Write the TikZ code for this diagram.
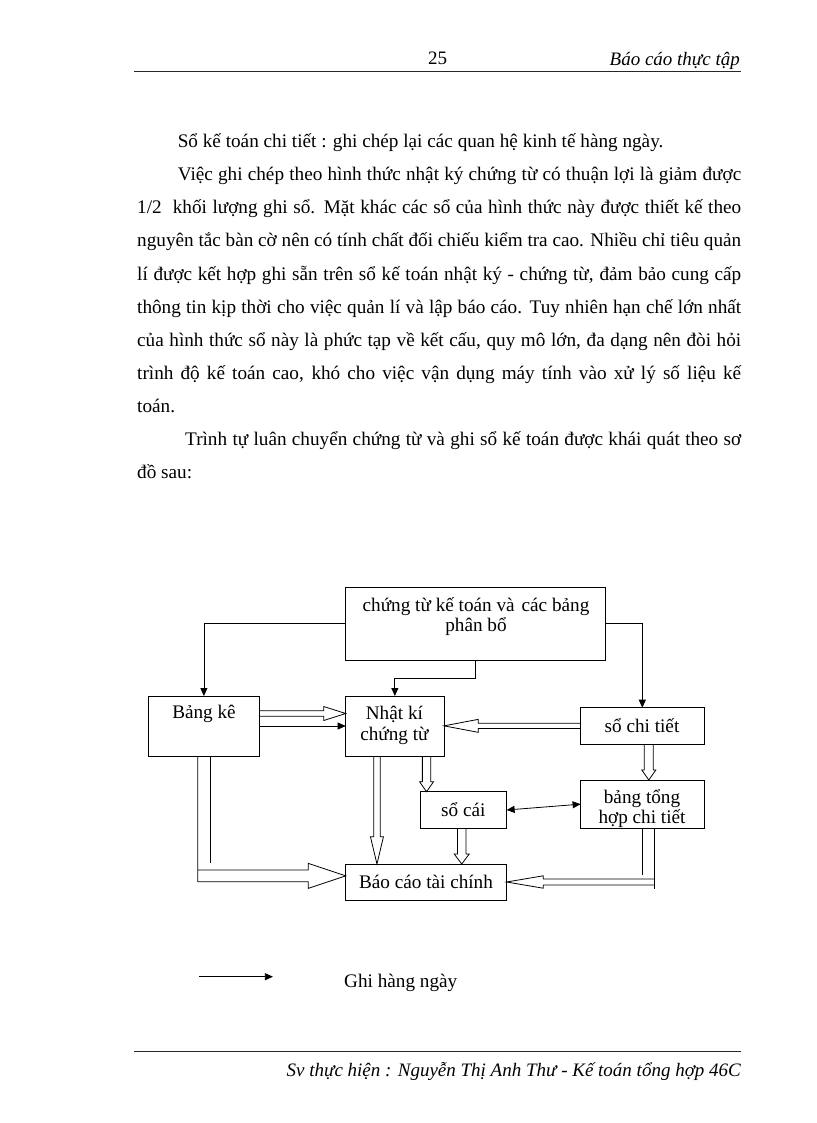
\documentclass[tikz,border=0pt]{standalone}
\usepackage{fontspec}
\setmainfont{Liberation Serif}
\usetikzlibrary{arrows.meta,calc}
\tikzset{
  box/.style={draw, line width=0.9pt, inner sep=0pt, outer sep=0pt},
  lbl/.style={inner sep=0pt, align=center, font=\fontsize{19.2}{20.5}\selectfont},
  arr/.style={line width=0.8pt, -{Triangle[length=8pt,width=7pt]}},
  arrtwo/.style={line width=0.8pt, {Triangle[length=8pt,width=7pt]}-{Triangle[length=8pt,width=7pt]}},
  hol/.style={line width=0.8pt, line join=miter},
  bodytxt/.style={inner sep=0pt, anchor=base west, font=\fontsize{19.2}{24}\selectfont},
  rule/.style={line width=0.9pt, black!85},
  hdr/.style={inner sep=0pt, font=\fontsize{19}{22}\selectfont\itshape},
}
% horizontal hollow double arrow: from #1 (gives y), tip x from #2, half gap #3, signed head length #4, half head #5
\newcommand\hollowH[5]{\draw[hol] let \p1=(#1), \p2=(#2) in
  (\x1,\y1+#3pt) -- ({\x2-(#4pt)},\y1+#3pt) -- ({\x2-(#4pt)},\y1+#5pt) -- (\x2,\y1)
  -- ({\x2-(#4pt)},\y1-#5pt) -- ({\x2-(#4pt)},\y1-#3pt) -- (\x1,\y1-#3pt);}
% vertical (downward) hollow double arrow: from #1 (gives x), tip y from #2
\newcommand\hollowV[5]{\draw[hol] let \p1=(#1), \p2=(#2) in
  (\x1+#3pt,\y1) -- (\x1+#3pt,{\y2+(#4pt)}) -- (\x1+#5pt,{\y2+(#4pt)}) -- (\x1,\y2)
  -- (\x1-#5pt,{\y2+(#4pt)}) -- (\x1-#3pt,{\y2+(#4pt)}) -- (\x1-#3pt,\y1);}
\newcommand\bodyline[4]{\node[bodytxt] (#1) at (#2,#3) {#4};}
\newcommand\justline[4]{\node[bodytxt] (#1) at (#2,#3) {\makebox[\dimexpr741pt-#2pt\relax][s]{#4}};}
\begin{document}
\begin{tikzpicture}[x=1pt,y=-1pt]
\fill[white] (0,0) rectangle (816,1123);
\useasboundingbox (0,0) rectangle (816,1123);

% header
\node[inner sep=0pt, anchor=base, font=\fontsize{19}{22}\selectfont] (pg) at (437.5,65) {25};
\node[hdr, anchor=base east] (htitle) at (740,66) {Báo cáo thực tập};
\coordinate (hr1) at (134,71.7); \coordinate (hr2) at (741,71.7);
\draw[rule] (hr1) -- (hr2);

% body text
\bodyline{t1}{177.6}{148}{Sổ kế toán chi tiết : ghi chép lại các quan hệ kinh tế hàng ngày.}
\justline{t2}{177.6}{181}{Việc ghi chép theo hình thức nhật ký chứng từ có thuận lợi là giảm được}
\justline{t3}{137}{214}{1/2\ \ khối lượng ghi sổ. Mặt khác các sổ của hình thức này được thiết kế theo}
\justline{t4}{137}{247}{nguyên tắc bàn cờ nên có tính chất đối chiếu kiểm tra cao. Nhiều chỉ tiêu quản}
\justline{t5}{137}{280}{lí được kết hợp ghi sẵn trên sổ kế toán nhật ký - chứng từ, đảm bảo cung cấp}
\justline{t6}{137}{313}{thông tin kịp thời cho việc quản lí và lập báo cáo. Tuy nhiên hạn chế lớn nhất}
\justline{t7}{137}{346}{của hình thức sổ này là phức tạp về kết cấu, quy mô lớn, đa dạng nên đòi hỏi}
\justline{t8}{137}{379}{trình độ kế toán cao, khó cho việc vận dụng máy tính vào xử lý số liệu kế}
\bodyline{t9}{137}{412}{toán.}
\justline{t10}{185}{445}{Trình tự luân chuyển chứng từ và ghi sổ kế toán được khái quát theo sơ}
\bodyline{t11}{137}{478}{đồ sau:}

% boxes
\node[box, minimum width=259.3pt, minimum height=72.7pt] (ct) at (475.35,623.65) {};
\node[box, minimum width=111pt, minimum height=60pt] (bk) at (203.9,726) {};
\node[box, minimum width=98.3pt, minimum height=60pt] (nk) at (394.85,726) {};
\node[box, minimum width=123.4pt, minimum height=36.3pt] (sct) at (642.3,725.85) {};
\node[box, minimum width=123.4pt, minimum height=48.3pt] (bth) at (642.3,804.15) {};
\node[box, minimum width=86.6pt, minimum height=36.6pt] (sc) at (463.3,810) {};
\node[box, minimum width=160.9pt, minimum height=36pt] (bc) at (426.15,882) {};

% labels
\node[lbl] (ctl) at (476,616.5) {chứng từ kế toán và\hspace{7pt}các bảng\\phân bổ};
\node[lbl] (bkl) at (204,714) {Bảng kê};
\node[lbl] (nkl) at (394.4,725.5) {Nhật kí\\chứng từ};
\node[lbl] (sctl) at (642,726) {sổ chi tiết};
\node[lbl] (bthl) at (642,808.5) {bảng tổng\\hợp chi tiết};
\node[lbl] (scl) at (463.3,810) {sổ cái};
\node[lbl] (bcl) at (426,882) {Báo cáo tài chính};

% thin arrows
\draw[arr] (ct.west) -| (bk.north);
\draw[arr] (ct.east) -| (sct.north);
\draw[arr] (ct.south) -- ++(0,18.7) -| (nk.north);
\draw[arr] (bk.east) -- (nk.west);
\draw[arrtwo] (sc.east) -- (bth.west);

% hollow double arrows
\hollowH{$(bk.east)+(0,-12.5)$}{nk.west}{2.8}{22}{7}
\hollowH{sct.west}{nk.east}{2.7}{-34.3}{6.5}
\hollowV{$(sct.south)+(6.5,0)$}{bth.north}{4.5}{10}{7}
\hollowV{$(nk.south)+(31.7,0)$}{sc.north}{4.2}{10}{7}
\hollowV{$(nk.south)+(-17.9,0)$}{bc.north}{3.3}{27.3}{6.5}
\hollowV{$(sc.south)+(-1.6,0)$}{bc.north}{4.3}{10}{7.5}

% bent: Bang ke -> Bao cao
\draw[hol] ($(bk.south)+(6.1,0)$) -- ++(0,107.3);
\draw[hol] let \p1=($(bk.south)+(-6.2,0)$), \p2=($(bc.west)+(0,-6.15)$) in
  (\x1,\y1) -- (\x1,\y2-5.85pt) -- (\x2-37.4pt,\y2-5.85pt) -- (\x2-37.4pt,\y2-12.5pt) -- (\x2,\y2)
  -- (\x2-37.4pt,\y2+12.5pt) -- (\x2-37.4pt,\y2+5.85pt) -- (\x1,\y2+5.85pt);

% bent: bang tong hop -> Bao cao
\draw[hol] (bth.south) -- ++(0,46.7);
\draw[hol] let \p1=($(bth.south)+(11.7,0)$), \p2=(bc.east) in
  (\x1,\y1) -- (\x1,\y2-6.6pt);
\draw[hol] let \p1=($(bth.south)+(11.7,0)$), \p2=(bc.east) in
  (\x1,\y2+3pt) -- (\x2+36.6pt,\y2+3pt) -- (\x2+36.6pt,\y2+6.2pt) -- (\x2,\y2)
  -- (\x2+36.6pt,\y2-6.2pt) -- (\x2+36.6pt,\y2-3pt) -- (\x1,\y2-3pt);

% legend
\coordinate (lg1) at (199.4,976.7); \coordinate (lg2) at (272.9,976.7);
\draw[arr] (lg1) -- (lg2);
\node[inner sep=0pt, anchor=base west, font=\fontsize{19.2}{22}\selectfont] (lgt) at (344,987) {Ghi hàng ngày};

% footer
\coordinate (fr1) at (134,1051); \coordinate (fr2) at (741,1051);
\draw[rule] (fr1) -- (fr2);
\node[hdr, anchor=base east] (ftext) at (741,1076) {Sv thực hiện : Nguyễn Thị Anh Thư - Kế toán tổng hợp 46C};
\end{tikzpicture}
\end{document}
